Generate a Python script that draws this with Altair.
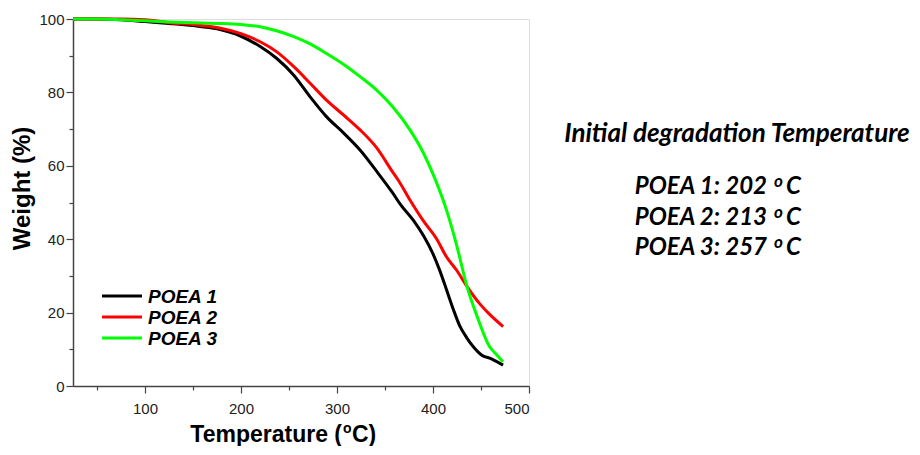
import altair as alt
import pandas as pd

series = ["POEA 1", "POEA 2", "POEA 3"]
colors = ["#000000", "#ff0000", "#00ff00"]

t1 = [25, 50, 75, 100, 125, 150, 175, 200, 220, 237, 255, 272, 289, 307, 324, 341, 358, 366, 380, 390, 400, 407, 414, 421, 428, 435, 442, 452, 459, 466, 473]
w1 = [100, 100, 99.8, 99.3, 98.8, 98.2, 97.3, 95.3, 92.5, 89.3, 84.7, 78.8, 73.4, 68.9, 64.3, 58.6, 52.6, 49.5, 45.0, 41.0, 36.0, 31.5, 26.3, 21.0, 16.3, 13.2, 10.7, 8.2, 7.6, 6.7, 5.7]

t2 = [25, 50, 75, 100, 125, 150, 175, 200, 220, 237, 255, 272, 289, 307, 324, 341, 358, 364, 376, 390, 404, 414, 425, 435, 449, 459, 473]
w2 = [100, 100, 100, 99.8, 99.0, 98.5, 97.7, 96.0, 93.8, 91.1, 87.0, 82.5, 77.9, 73.8, 69.8, 65.0, 58.3, 56.0, 50.7, 45.0, 40.0, 35.2, 31.4, 27.3, 22.3, 19.5, 16.2]

t3 = [25, 50, 75, 100, 125, 150, 175, 200, 220, 237, 255, 272, 289, 307, 324, 341, 358, 376, 390, 402, 414, 425, 435, 446, 459, 466, 473]
w3 = [100, 100, 99.8, 99.5, 99.2, 99.0, 98.8, 98.5, 97.9, 96.8, 95.2, 93.2, 90.6, 87.6, 84.3, 80.7, 76.1, 69.8, 63.5, 56.5, 48.0, 38.0, 27.5, 18.9, 10.7, 8.6, 6.6]

x_ticks = [50, 100, 150, 200, 250, 300, 350, 400, 450, 500]
y_ticks = [0, 10, 20, 30, 40, 50, 60, 70, 80, 90, 100]

x_title_parts = ["Temperature (", "o", "C)"]
y_title = "Weight (%)"

note_title = "Initial degradation Temperature"
note_names = ["POEA 1: 202", "POEA 2: 213", "POEA 3: 257"]
degree_mark = "o"
unit = "C"

rows = []
for name, ts, ws in zip(series, [t1, t2, t3], [w1, w2, w3]):
    for t, w in zip(ts, ws):
        rows.append({"series": name, "temp": t, "weight": w})
df = pd.DataFrame(rows)

W, H = 456, 367


def txt(s, x, y, **kw):
    return alt.Chart(pd.DataFrame({"t": [s]})).mark_text(color="#000", **kw).encode(
        x=alt.value(x), y=alt.value(y), text="t:N")


lines = alt.Chart(df).mark_line(strokeWidth=3, interpolate="monotone", clip=False).encode(
    x=alt.X("temp:Q",
            scale=alt.Scale(domain=[25, 500], nice=False, zero=False),
            axis=alt.Axis(values=x_ticks,
                          labelExpr="datum.value % 100 == 0 ? datum.label : ''",
                          tickSize={"condition": {"test": "datum.value % 100 == 0", "value": 7}, "value": 4},
                          title=None,
                          labelFont="Liberation Sans", labelFontSize=15, labelColor="#222",
                          labelPadding=8, grid=False,
                          domainColor="#444", tickColor="#444", domainWidth=1.5, tickWidth=1.2)),
    y=alt.Y("weight:Q",
            scale=alt.Scale(domain=[0, 100], nice=False),
            axis=alt.Axis(values=y_ticks,
                          labelExpr="datum.value % 20 == 0 ? datum.label : ''",
                          tickSize={"condition": {"test": "datum.value % 20 == 0", "value": 7}, "value": 4},
                          title=y_title,
                          titleX=-51, titleY=169, titleBaseline="middle", titleAngle=-90,
                          titleFont="Liberation Sans", titleFontSize=24, titleFontWeight="bold",
                          titleColor="#000",
                          labelFont="Liberation Sans", labelFontSize=15, labelColor="#222",
                          labelPadding=2, grid=False,
                          domainColor="#444", tickColor="#444", domainWidth=1.5, tickWidth=1.2)),
    color=alt.Color("series:N", scale=alt.Scale(domain=series, range=colors), legend=None),
)

layers = [lines]

# x axis title with superscript o
xt = dict(font="Liberation Sans", fontWeight="bold", baseline="alphabetic")
layers.append(txt(x_title_parts[0], 269, 423, fontSize=23, align="right", **xt))
layers.append(txt(x_title_parts[1], 270, 414, fontSize=14, align="left", **xt))
layers.append(txt(x_title_parts[2], 279, 423, fontSize=23, align="left", **xt))

# manual legend
for i, (name, col) in enumerate(zip(series, colors)):
    yy = 277 + 21 * i
    layers.append(
        alt.Chart(pd.DataFrame({"s": [name]})).mark_rule(color=col, strokeWidth=3).encode(
            x=alt.value(29), x2=alt.value(69), y=alt.value(yy))
    )
    layers.append(txt(name, 75, yy + 1, font="Liberation Sans", fontSize=19, fontStyle="italic",
                      fontWeight="bold", align="left", baseline="middle"))

# annotation
an = dict(font="Lato", fontStyle="italic", fontWeight="bold", baseline="alphabetic")
layers.append(txt(note_title, 664, 123, fontSize=26, align="center", **an))
for i, s in enumerate(note_names):
    base = 175 + 30.5 * i
    layers.append(txt(s, 694, base, fontSize=24, align="right", **an))
    layers.append(txt(degree_mark, 701, base - 7, fontSize=17, align="left", **an))
    layers.append(txt(unit, 713, base, fontSize=24, align="left", **an))

chart = alt.layer(*layers).properties(
    width=W, height=H,
    autosize=alt.AutoSizeParams(type="none"),
    padding={"left": 65, "top": 11, "right": 383, "bottom": 60},
).configure_view(stroke="#000", strokeWidth=1.5).configure(background="white")

chart.save("out.html", embed_options={"renderer": "svg", "actions": False})
